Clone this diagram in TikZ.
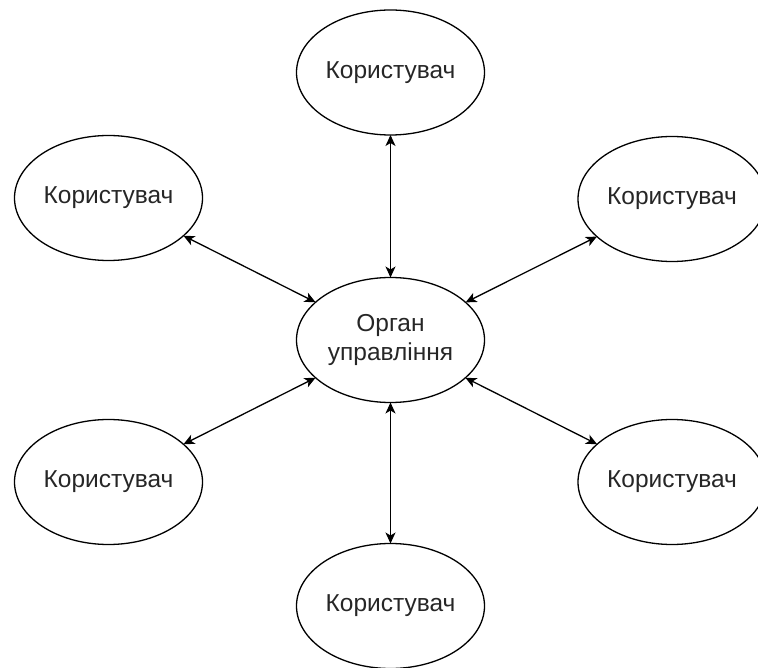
\documentclass[tikz,border=0pt]{standalone}
\usepackage{fontspec}
\setmainfont{Liberation Sans}
\usetikzlibrary{shapes.geometric,arrows.meta}
\tikzset{
  actor/.style={ellipse, draw, line width=1.3pt, minimum width=188pt, minimum height=125pt,
    inner sep=0pt, outer sep=0pt, font=\fontsize{24.5}{29}\selectfont, text=black!85, align=center},
  link/.style={line width=1.3pt, {Stealth[length=11pt,width=10pt,inset=3pt]}-{Stealth[length=11pt,width=10pt,inset=3pt]}}
}
\begin{document}
\begin{tikzpicture}[x=1pt,y=-1pt]
  \useasboundingbox (0,0) rectangle (758,668);
  \node[actor] (hub) at (390.5,340) {Орган\\управління};
  \node[actor] (n)  at (390.5,72.5) {Користувач};
  \node[actor] (nw) at (108.5,198) {Користувач};
  \node[actor] (ne) at (672,199) {Користувач};
  \node[actor] (sw) at (108.5,482) {Користувач};
  \node[actor] (se) at (672,482) {Користувач};
  \node[actor] (s)  at (390.5,606) {Користувач};
  \foreach \u in {n,nw,ne,sw,se,s}
    \draw[link] (\u) -- (hub);
\end{tikzpicture}
\end{document}
